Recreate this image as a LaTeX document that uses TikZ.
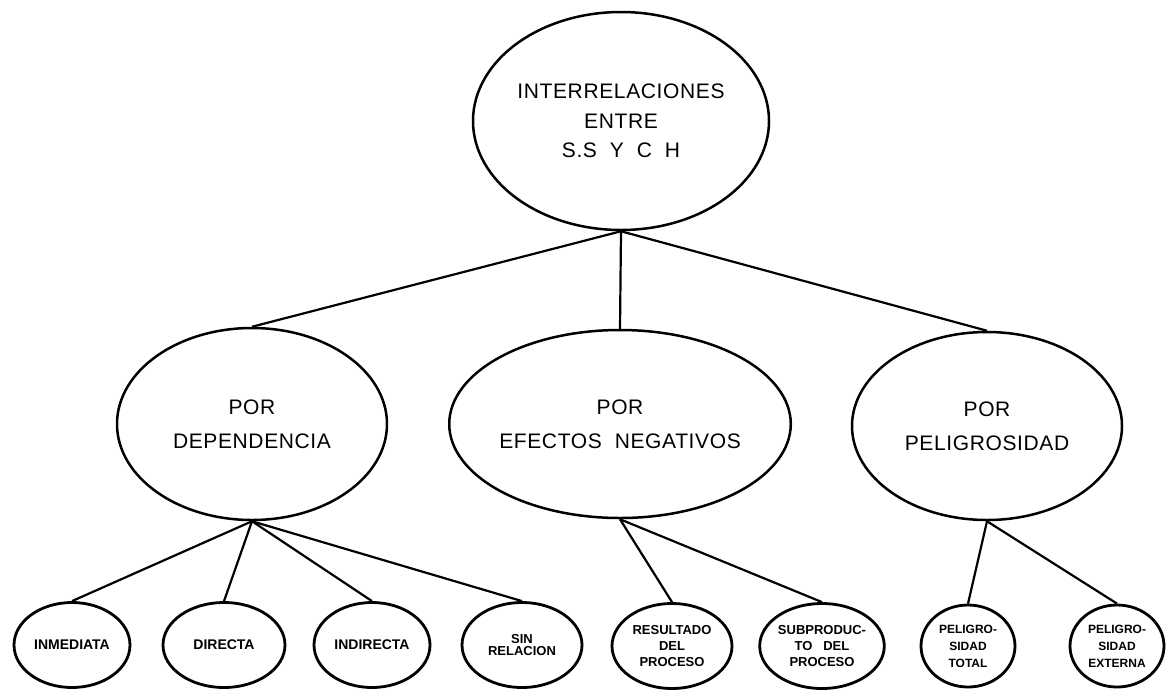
\documentclass[tikz,border=0pt]{standalone}
\usepackage{fontspec}
\setmainfont{Liberation Sans}
\newfontfamily\letterfont[LetterSpace=3]{Liberation Sans}
\usetikzlibrary{shapes.geometric}
\tikzset{
  topoval/.style={ellipse, draw, line width=2.5pt, inner sep=0pt, align=center,
    font=\letterfont\fontsize{21}{29.5}\selectfont},
  midoval/.style={ellipse, draw, line width=2.5pt, inner sep=0pt, align=center,
    font=\letterfont\fontsize{21}{34}\selectfont},
  leaf/.style={ellipse, draw, line width=2.8pt, inner sep=0pt, align=center,
    minimum height=85pt, font=\bfseries\fontsize{14}{16}\selectfont},
  link/.style={line width=2.2pt}
}
\begin{document}
\begin{tikzpicture}[x=1pt,y=-1pt]
\useasboundingbox (0,0) rectangle (1172,689);

% root
\node[topoval, minimum width=296pt, minimum height=218pt] (root) at (621,121)
  {INTERRELACIONES\\ENTRE\\S.S\ \ Y\ \ C\ \ H};

% second level
\node[midoval, minimum width=270pt, minimum height=192pt] (dep) at (252,424)
  {POR\\DEPENDENCIA};
\node[midoval, minimum width=264pt, minimum height=188pt] (neg) at (620,424)
  {POR\\EFECTOS\ \ NEGATIVOS};
\node[midoval, minimum width=270pt, minimum height=188pt] (pel) at (987,426)
  {POR\\PELIGROSIDAD};

% leaves
\node[leaf, minimum width=116pt] (inm) at (72,645) {INMEDIATA};
\node[leaf, minimum width=122pt] (dir) at (224,645) {DIRECTA};
\node[leaf, minimum width=116pt] (ind) at (372,645) {INDIRECTA};
\node[leaf, minimum width=120pt, font=\bfseries\fontsize{13}{12}\selectfont] (sin) at (522,645) {SIN\\RELACION};
\node[leaf, minimum width=120pt, font=\bfseries\fontsize{13}{16}\selectfont] (res) at (672,646) {RESULTADO\\DEL\\PROCESO};
\node[leaf, minimum width=110pt, font=\bfseries\fontsize{13}{16}\selectfont] (sub) at (822,646) {SUBPRODUC-\\TO\ \ \ DEL\\PROCESO};
\node[leaf, minimum width=94pt, minimum height=82pt, font=\bfseries\fontsize{12}{17}\selectfont] (tot) at (968,646) {PELIGRO-\\SIDAD\\TOTAL};
\node[leaf, minimum width=94pt, minimum height=82pt, font=\bfseries\fontsize{12}{17}\selectfont] (ext) at (1117,646) {PELIGRO-\\SIDAD\\EXTERNA};

% connectors
\draw[link] (root.south) -- (dep.north);
\draw[link] (root.south) -- (neg.north);
\draw[link] (root.south) -- (pel.north);

\draw[link] (dep.south) -- (inm.north);
\draw[link] (dep.south) -- (dir.north);
\draw[link] (dep.south) -- (ind.north);
\draw[link] (dep.south) -- (sin.north);

\draw[link] (neg.south) -- (res.north);
\draw[link] (neg.south) -- (sub.north);

\draw[link] (pel.south) -- (tot.north);
\draw[link] (pel.south) -- (ext.north);
\end{tikzpicture}
\end{document}
